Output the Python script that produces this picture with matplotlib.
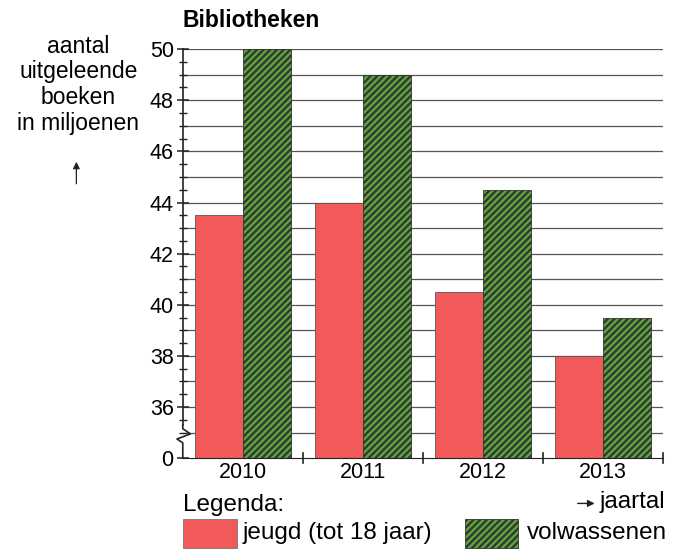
import matplotlib.pyplot as plt
import matplotlib.transforms as mtransforms
from matplotlib.patches import Rectangle
import numpy as np

plt.rcParams['font.family'] = ['Liberation Sans', 'DejaVu Sans']
plt.rcParams['hatch.linewidth'] = 1.6
plt.rcParams['hatch.color'] = '#1a1a1a'

jaren = ['2010', '2011', '2012', '2013']
jeugd = [43.5, 44, 40.5, 38]
volwassenen = [50, 49, 44.5, 39.5]
ytick_vals = [36, 38, 40, 42, 44, 46, 48, 50]

red = '#f25a5a'
green = '#5aa53a'

# broken axis: 0 is drawn at 34
base = 34

fig = plt.figure(figsize=(6.82, 5.52), dpi=100)
ax = fig.add_axes([0.268, 0.170, 0.704, 0.741])

x = np.arange(len(jaren))
w = 0.4
for v in range(35, 51):
    ax.axhline(v, color='#555555', lw=0.9, zorder=1)

ax.bar(x - w / 2, np.array(jeugd) - base, w, bottom=base, color=red,
       edgecolor='#555555', lw=0.6, zorder=2)
ax.bar(x + w / 2, np.array(volwassenen) - base, w, bottom=base, color=green,
       edgecolor='#333333', lw=0.6, hatch='/////', zorder=2)

ax.set_xlim(-0.5, 3.5)
ax.set_ylim(base, 50)
for s in ['top', 'right', 'left']:
    ax.spines[s].set_visible(False)
ax.spines['bottom'].set_color('#222222')

ax.set_xticks(x)
ax.set_xticklabels(jaren, fontsize=15.5)
ax.tick_params(axis='x', length=0, pad=3)
trans_x = mtransforms.blended_transform_factory(ax.transData, ax.transAxes)
for b in [0.5, 1.5, 2.5, 3.5]:
    ax.plot([b, b], [-0.012, 0.012], color='#222222', lw=1.2, transform=trans_x,
            clip_on=False)

ax.set_yticks([base] + ytick_vals)
ax.set_yticklabels(['0'] + [str(v) for v in ytick_vals], fontsize=15.5)
ax.set_yticks(np.arange(35, 50.1, 0.5), minor=True)
ax.tick_params(axis='y', which='major', direction='inout', length=9, width=1.1,
               color='#222222', pad=2)
ax.tick_params(axis='y', which='minor', direction='inout', length=6, width=1.0,
               color='#222222')

# left axis line with break mark
trans_y = mtransforms.blended_transform_factory(ax.transAxes, ax.transData)
ax.plot([0, 0], [35.3, 50], color='#222222', lw=1.2, transform=trans_y, clip_on=False)
ax.plot([0, 0, 0.016, -0.012, 0, 0], [35.3, 35.15, 34.95, 34.75, 34.6, base],
        color='#222222', lw=1.2, transform=trans_y, clip_on=False)

fig.text(0.268, 0.963, 'Bibliotheken', fontsize=16.5, fontweight='bold', va='center')
fig.text(0.115, 0.937, 'aantal\nuitgeleende\nboeken\nin miljoenen', fontsize=16.5,
         ha='center', va='top', linespacing=1.15)
fig.add_artist(plt.Annotation('', xy=(0.112, 0.712), xytext=(0.112, 0.662),
               xycoords='figure fraction',
               arrowprops=dict(arrowstyle='-|>', color='#222222', lw=0.9,
                               mutation_scale=10)))

fig.text(0.268, 0.086, 'Legenda:', fontsize=17.5, va='center')
fig.add_artist(plt.Annotation('', xy=(0.876, 0.088), xytext=(0.843, 0.088),
               xycoords='figure fraction',
               arrowprops=dict(arrowstyle='-|>', color='#222222', lw=1.0,
                               mutation_scale=10)))
fig.text(0.879, 0.091, 'jaartal', fontsize=17.5, va='center')

fig.add_artist(Rectangle((0.268, 0.008), 0.079, 0.051, transform=fig.transFigure,
                         facecolor=red, edgecolor='#777777', lw=0.6))
fig.text(0.356, 0.034, 'jeugd (tot 18 jaar)', fontsize=17.5, va='center')
fig.add_artist(Rectangle((0.682, 0.008), 0.078, 0.051, transform=fig.transFigure,
                         facecolor=green, edgecolor='#333333', lw=0.6, hatch='/////'))
fig.text(0.772, 0.034, 'volwassenen', fontsize=17.5, va='center')

fig.savefig('out.png', dpi=100)
